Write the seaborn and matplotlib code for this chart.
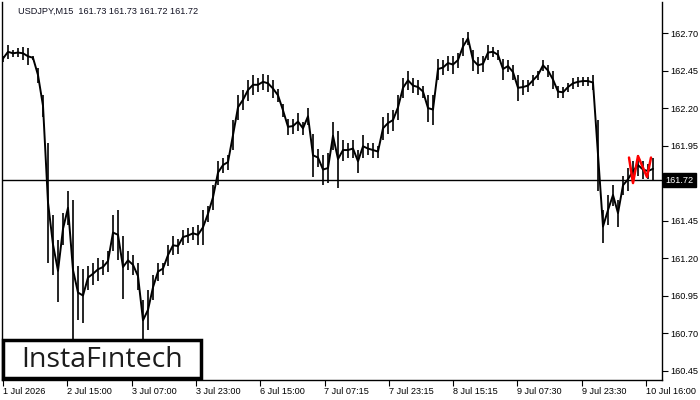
import numpy as np
import pandas as pd
import matplotlib
matplotlib.use("Agg")
import matplotlib.pyplot as plt
import matplotlib.patches as mpatches
import matplotlib.transforms as mtransforms
import seaborn as sns

# ---------------- data (USDJPY M15, sampled high / low) ----------------
symbol = "USDJPY,M15"
last_quote = ["161.73", "161.73", "161.72", "161.72"]

high = [162.55, 162.62, 162.59, 162.60, 162.61, 162.60, 162.55, 162.47, 162.29, 161.97,
        161.49, 161.32, 161.50, 161.65, 161.59, 161.15, 161.13, 161.15, 161.17, 161.20,
        161.19, 161.25, 161.49, 161.52, 161.35, 161.25, 161.22, 161.17, 160.92, 160.99,
        161.09, 161.17, 161.17, 161.29, 161.35, 161.33, 161.39, 161.40, 161.41, 161.42,
        161.52, 161.55, 161.69, 161.85, 161.87, 161.89, 162.12, 162.29, 162.32, 162.39,
        162.42, 162.40, 162.43, 162.42, 162.39, 162.33, 162.23, 162.13, 162.13, 162.17,
        162.11, 162.20, 162.03, 161.93, 161.89, 161.90, 162.11, 162.05, 161.99, 161.97,
        161.99, 161.92, 162.02, 161.97, 161.97, 161.95, 162.14, 162.17, 162.19, 162.29,
        162.40, 162.45, 162.40, 162.39, 162.35, 162.29, 162.29, 162.53, 162.52, 162.55,
        162.55, 162.57, 162.67, 162.71, 162.59, 162.54, 162.55, 162.62, 162.61, 162.59,
        162.53, 162.52, 162.49, 162.42, 162.39, 162.39, 162.42, 162.45, 162.52, 162.49,
        162.45, 162.35, 162.34, 162.37, 162.40, 162.41, 162.41, 162.41, 162.42, 162.12,
        161.52, 161.62, 161.69, 161.59, 161.75, 161.80, 161.85, 161.89, 161.85, 161.83,
        161.87]
low = [162.51, 162.53, 162.54, 162.54, 162.52, 162.49, 162.52, 162.37, 162.14, 161.17,
       161.09, 160.91, 161.29, 161.42, 160.65, 160.79, 160.77, 160.99, 161.02, 161.05,
       161.09, 161.11, 161.25, 161.19, 160.93, 161.12, 161.09, 160.99, 160.65, 160.72,
       160.92, 161.05, 161.09, 161.15, 161.22, 161.23, 161.29, 161.30, 161.32, 161.29,
       161.29, 161.44, 161.52, 161.69, 161.77, 161.79, 161.92, 162.12, 162.19, 162.25,
       162.29, 162.31, 162.32, 162.31, 162.27, 162.24, 162.14, 162.02, 162.03, 162.05,
       162.02, 162.09, 161.74, 161.81, 161.69, 161.70, 161.92, 161.67, 161.85, 161.87,
       161.87, 161.77, 161.87, 161.89, 161.87, 161.87, 161.99, 162.03, 162.05, 162.12,
       162.27, 162.32, 162.30, 162.29, 162.27, 162.11, 162.09, 162.39, 162.42, 162.45,
       162.43, 162.47, 162.55, 162.62, 162.45, 162.43, 162.44, 162.52, 162.54, 162.52,
       162.39, 162.44, 162.39, 162.25, 162.29, 162.31, 162.35, 162.39, 162.45, 162.41,
       162.33, 162.27, 162.27, 162.31, 162.33, 162.34, 162.35, 162.35, 162.32, 161.65,
       161.30, 161.42, 161.55, 161.41, 161.62, 161.65, 161.71, 161.75, 161.73, 161.73,
       161.72]

last_price = 161.72
pattern_pos = [125.2, 126.0, 127.0, 128.8, 129.6]
pattern_price = [161.87, 161.70, 161.88, 161.74, 161.87]

time_labels = ["1 Jul 2026", "2 Jul 15:00", "3 Jul 07:00", "3 Jul 23:00", "6 Jul 15:00",
               "7 Jul 07:15", "7 Jul 23:15", "8 Jul 15:15", "9 Jul 07:30", "9 Jul 23:30",
               "10 Jul 16:00"]
price_ticks = [162.70, 162.45, 162.20, 161.95, 161.70, 161.45, 161.20, 160.95, 160.70, 160.45]
brand = "InstaF\u0131ntech"

# ---------------- frames ----------------
hl = np.array([high, low])
mid = hl.mean(axis=0)
df_mid = pd.DataFrame({"x": np.arange(len(high)), "y": mid})
pat = pd.DataFrame({"x": pattern_pos, "y": pattern_price})

# ---------------- figure ----------------
sns.set_theme(style="white")
plt.rcParams["font.family"] = ["Liberation Sans", "DejaVu Sans"]

fig = plt.figure(figsize=(7, 4), dpi=100)
ax = fig.add_axes([2 / 700, 20 / 400, 660 / 700, 378 / 400])

# high-low bars
ax.vlines(np.arange(len(high)), low, high, color="black", lw=1.2, zorder=3)
# running line through the bar middles
sns.lineplot(data=df_mid, x="x", y="y", sort=False, estimator=None,
             color="black", lw=1.4, ax=ax, zorder=3)
# highlighted pattern
sns.lineplot(data=pat, x="x", y="y", sort=False, estimator=None,
             color="#ff0000", lw=1.8, ax=ax, zorder=4)

ax.axhline(last_price, color="black", lw=1.0, zorder=2)

ax.set_xlim(-0.2, 131.8)
ax.set_ylim(160.387, 162.907)
ax.set_xlabel("")
ax.set_ylabel("")

# y axis on right
ax.yaxis.tick_right()
ax.set_yticks(price_ticks)
ax.set_yticklabels(["" if abs(p - last_price) < 0.05 else f"{p:.2f}" for p in price_ticks])
ax.tick_params(axis="y", direction="out", length=4, width=0.8, pad=2,
               labelsize=6.6, colors="black", right=True, left=False)

# x axis
xt = np.arange(len(time_labels)) * 12.86
ax.set_xticks(xt)
ax.set_xticklabels(time_labels, ha="left")
ax.tick_params(axis="x", direction="out", length=4, width=0.8, pad=1,
               labelsize=6.6, colors="black", bottom=True)

for s in ["left", "right", "bottom"]:
    ax.spines[s].set_visible(True)
    ax.spines[s].set_color("black")
    ax.spines[s].set_linewidth(1.0)
ax.spines["top"].set_visible(False)

# price label box on right axis
trans = mtransforms.blended_transform_factory(ax.transAxes, ax.transData)
ax.text(1.005, last_price, f"{last_price:.2f}", transform=trans, ha="left", va="center",
        color="white", fontsize=6.6,
        bbox=dict(boxstyle="square,pad=0.3", facecolor="black", edgecolor="black"),
        clip_on=False, zorder=10)

# header text
fig.text(18 / 700, 1 - 11 / 400, f"{symbol}  " + " ".join(last_quote),
         fontsize=6.6, color="#111122", ha="left", va="center")

# brand box
rect = mpatches.Rectangle((3 / 700, 22 / 400), 198 / 700, 38 / 400, transform=fig.transFigure,
                          facecolor="white", edgecolor="black", lw=2.5, zorder=20)
fig.patches.append(rect)
fig.text(102 / 700, 1 - 360 / 400, brand, fontsize=20.5, color="#1c1c1c", ha="center",
         va="center", family=["Open Sans", "DejaVu Sans"], zorder=21)

fig.savefig("out.png", dpi=100, facecolor="white")
